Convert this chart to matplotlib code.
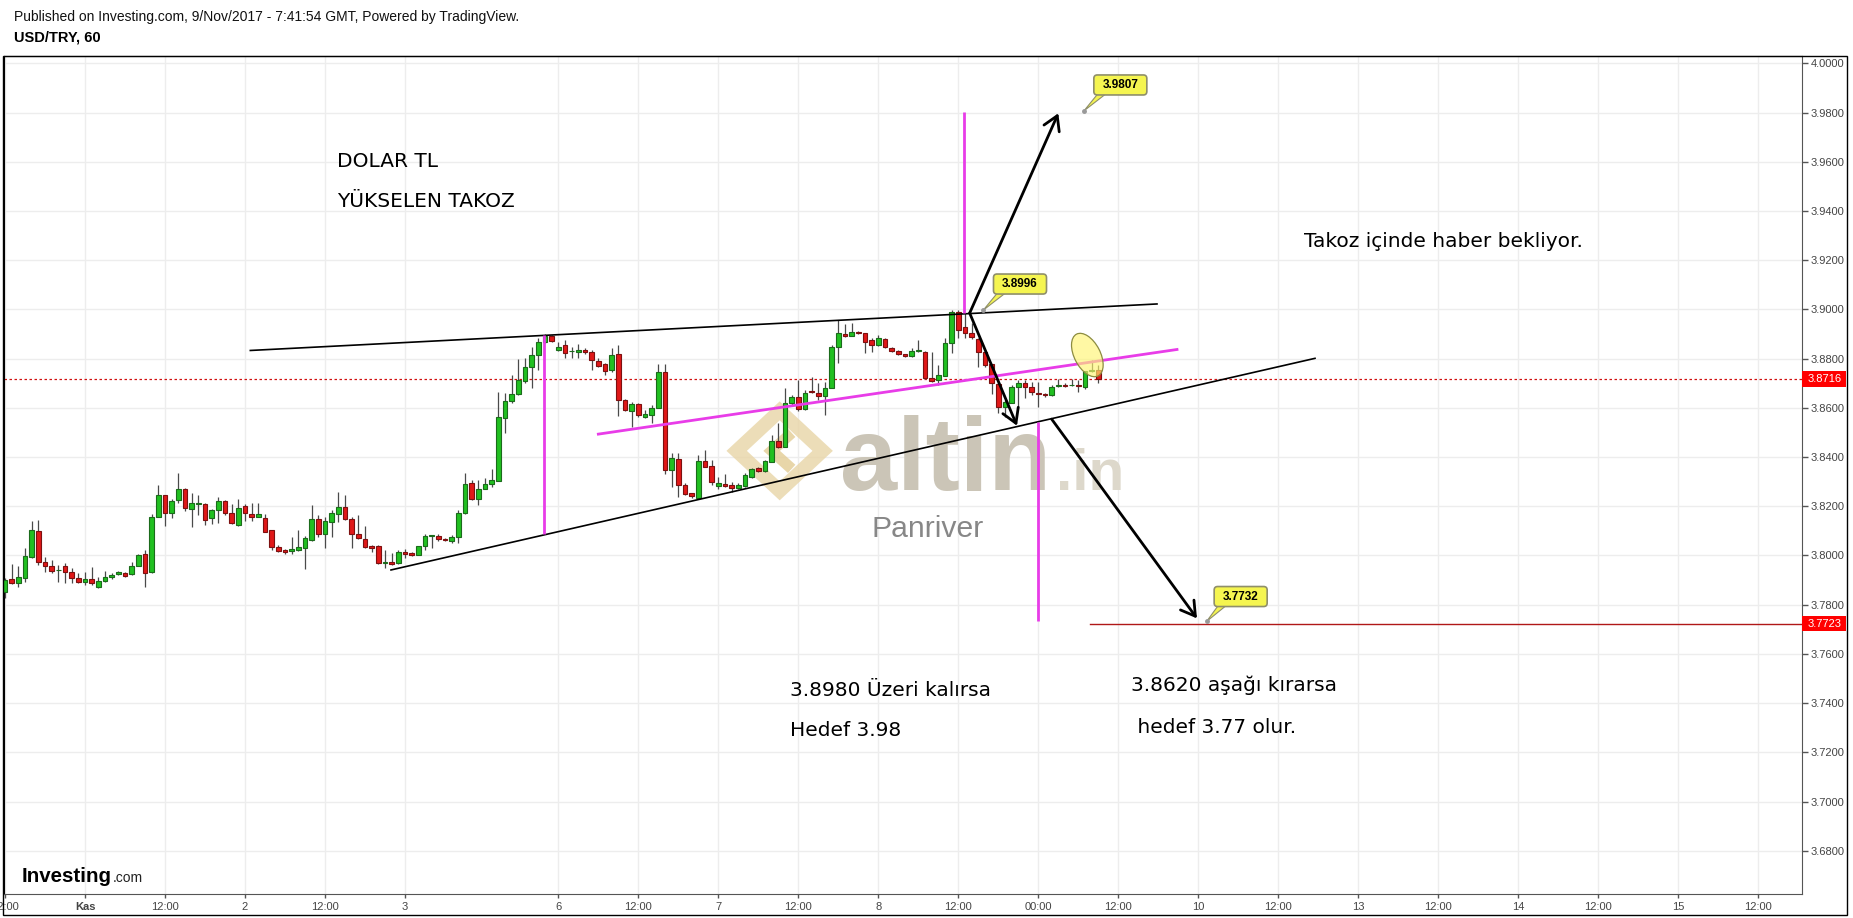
import numpy as np
import matplotlib.pyplot as plt
from matplotlib.patches import Ellipse, FancyBboxPatch, Polygon, Rectangle
from matplotlib.transforms import ScaledTranslation, blended_transform_factory

# USD/TRY hourly bars, x = bar number (0 = 1 Kas 00:00), weekend removed like TradingView
bar_idx = list(range(-12, 153))
opens = [3.7850, 3.7906, 3.7889, 3.7909, 3.7994, 3.8099, 3.7975, 3.7959, 3.7940, 3.7959, 3.7932, 3.7909,
         3.7893, 3.7904, 3.7870, 3.7895, 3.7913, 3.7923, 3.7928, 3.7923, 3.7959, 3.8004, 3.7931, 3.8158,
         3.8244, 3.8171, 3.8225, 3.8272, 3.8190, 3.8211, 3.8211, 3.8153, 3.8183, 3.8221, 3.8171, 3.8122,
         3.8200, 3.8168, 3.8158, 3.8154, 3.8102, 3.8035, 3.8022, 3.8017, 3.8022, 3.8032, 3.8062, 3.8150,
         3.8087, 3.8136, 3.8168, 3.8195, 3.8150, 3.8089, 3.8065, 3.8038, 3.8039, 3.7969, 3.7975, 3.7970,
         3.8013, 3.8008, 3.8003, 3.8039, 3.8080, 3.8080, 3.8066, 3.8057, 3.8073, 3.8171, 3.8296, 3.8231,
         3.8272, 3.8292, 3.8304, 3.8557, 3.8627, 3.8656, 3.8710, 3.8767, 3.8814, 3.8866, 3.8892, 3.8835,
         3.8855, 3.8829, 3.8826, 3.8835, 3.8828, 3.8790, 3.8777, 3.8753, 3.8817, 3.8631, 3.8588, 3.8614,
         3.8564, 3.8570, 3.8601, 3.8744, 3.8347, 3.8390, 3.8286, 3.8252, 3.8235, 3.8385, 3.8364, 3.8283,
         3.8290, 3.8286, 3.8276, 3.8283, 3.8317, 3.8354, 3.8344, 3.8381, 3.8465, 3.8442, 3.8618, 3.8642,
         3.8594, 3.8668, 3.8661, 3.8648, 3.8682, 3.8848, 3.8900, 3.8893, 3.8909, 3.8902, 3.8875, 3.8855,
         3.8879, 3.8845, 3.8831, 3.8817, 3.8812, 3.8831, 3.8828, 3.8720, 3.8713, 3.8729, 3.8862, 3.8990,
         3.8927, 3.8905, 3.8878, 3.8828, 3.8776, 3.8696, 3.8604, 3.8621, 3.8683, 3.8702, 3.8683, 3.8662,
         3.8656, 3.8652, 3.8689, 3.8694, 3.8691, 3.8691, 3.8686, 3.8749, 3.8753]
highs = [3.7908, 3.7967, 3.7957, 3.8031, 3.8139, 3.8143, 3.7992, 3.7981, 3.7961, 3.7970, 3.7950, 3.7927,
         3.7932, 3.7951, 3.7913, 3.7936, 3.7929, 3.7935, 3.7933, 3.7974, 3.8005, 3.8024, 3.8167, 3.8286,
         3.8246, 3.8231, 3.8333, 3.8274, 3.8252, 3.8245, 3.8213, 3.8187, 3.8238, 3.8225, 3.8211, 3.8231,
         3.8211, 3.8215, 3.8214, 3.8170, 3.8104, 3.8042, 3.8026, 3.8073, 3.8103, 3.8078, 3.8204, 3.8164,
         3.8157, 3.8184, 3.8259, 3.8245, 3.8157, 3.8164, 3.8119, 3.8042, 3.8042, 3.8022, 3.8008, 3.8024,
         3.8028, 3.8015, 3.8039, 3.8089, 3.8083, 3.8087, 3.8069, 3.8083, 3.8184, 3.8333, 3.8306, 3.8306,
         3.8313, 3.8350, 3.8665, 3.8661, 3.8733, 3.8797, 3.8801, 3.8848, 3.8882, 3.8900, 3.8896, 3.8866,
         3.8875, 3.8848, 3.8859, 3.8845, 3.8835, 3.8801, 3.8783, 3.8841, 3.8855, 3.8634, 3.8625, 3.8618,
         3.8591, 3.8611, 3.8780, 3.8780, 3.8415, 3.8415, 3.8293, 3.8255, 3.8408, 3.8428, 3.8387, 3.8320,
         3.8329, 3.8299, 3.8293, 3.8333, 3.8354, 3.8358, 3.8388, 3.8489, 3.8537, 3.8679, 3.8652, 3.8713,
         3.8672, 3.8726, 3.8699, 3.8706, 3.8855, 3.8957, 3.8940, 3.8943, 3.8913, 3.8903, 3.8882, 3.8896,
         3.8882, 3.8848, 3.8834, 3.8820, 3.8841, 3.8875, 3.8829, 3.8828, 3.8774, 3.8882, 3.8996, 3.8996,
         3.8984, 3.8943, 3.8882, 3.8835, 3.8780, 3.8706, 3.8631, 3.8692, 3.8713, 3.8713, 3.8706, 3.8706,
         3.8661, 3.8692, 3.8719, 3.8699, 3.8719, 3.8713, 3.8749, 3.8794, 3.8774]
lows = [3.7827, 3.7885, 3.7870, 3.7893, 3.7990, 3.7960, 3.7933, 3.7930, 3.7893, 3.7889, 3.7889, 3.7886,
        3.7879, 3.7880, 3.7866, 3.7893, 3.7906, 3.7920, 3.7913, 3.7921, 3.7957, 3.7873, 3.7929, 3.8156,
        3.8119, 3.8153, 3.8214, 3.8180, 3.8116, 3.8164, 3.8123, 3.8127, 3.8133, 3.8165, 3.8128, 3.8120,
        3.8141, 3.8141, 3.8157, 3.8095, 3.8022, 3.8015, 3.8005, 3.8004, 3.8020, 3.7943, 3.8060, 3.8073,
        3.8031, 3.8076, 3.8137, 3.8146, 3.8032, 3.8065, 3.8032, 3.8015, 3.7967, 3.7947, 3.7962, 3.7967,
        3.7988, 3.7996, 3.8000, 3.8022, 3.8032, 3.8060, 3.8058, 3.8052, 3.8052, 3.8169, 3.8225, 3.8204,
        3.8268, 3.8279, 3.8302, 3.8499, 3.8620, 3.8652, 3.8700, 3.8682, 3.8753, 3.8862, 3.8866, 3.8830,
        3.8801, 3.8801, 3.8801, 3.8820, 3.8753, 3.8765, 3.8733, 3.8746, 3.8568, 3.8587, 3.8520, 3.8564,
        3.8560, 3.8537, 3.8600, 3.8331, 3.8279, 3.8239, 3.8245, 3.8232, 3.8232, 3.8358, 3.8286, 3.8272,
        3.8280, 3.8259, 3.8272, 3.8280, 3.8314, 3.8340, 3.8340, 3.8380, 3.8438, 3.8440, 3.8611, 3.8588,
        3.8590, 3.8660, 3.8630, 3.8570, 3.8680, 3.8783, 3.8888, 3.8890, 3.8899, 3.8824, 3.8828, 3.8850,
        3.8844, 3.8828, 3.8815, 3.8806, 3.8808, 3.8826, 3.8716, 3.8706, 3.8693, 3.8728, 3.8822, 3.8882,
        3.8882, 3.8880, 3.8764, 3.8765, 3.8658, 3.8577, 3.8563, 3.8620, 3.8601, 3.8638, 3.8652, 3.8604,
        3.8645, 3.8648, 3.8686, 3.8686, 3.8688, 3.8665, 3.8675, 3.8746, 3.8699]
closes = [3.7900, 3.7889, 3.7912, 3.7996, 3.8103, 3.7974, 3.7958, 3.7938, 3.7942, 3.7933, 3.7909, 3.7893,
          3.7904, 3.7886, 3.7895, 3.7912, 3.7920, 3.7931, 3.7917, 3.7959, 3.8000, 3.7929, 3.8158, 3.8244,
          3.8171, 3.8221, 3.8268, 3.8191, 3.8214, 3.8212, 3.8146, 3.8183, 3.8221, 3.8171, 3.8130, 3.8191,
          3.8171, 3.8158, 3.8168, 3.8097, 3.8035, 3.8020, 3.8016, 3.8026, 3.8035, 3.8069, 3.8150, 3.8087,
          3.8139, 3.8171, 3.8195, 3.8150, 3.8089, 3.8069, 3.8035, 3.8032, 3.7970, 3.7972, 3.7967, 3.8016,
          3.8004, 3.8000, 3.8039, 3.8081, 3.8081, 3.8065, 3.8061, 3.8073, 3.8171, 3.8290, 3.8231, 3.8272,
          3.8292, 3.8306, 3.8561, 3.8627, 3.8656, 3.8713, 3.8764, 3.8814, 3.8866, 3.8893, 3.8871, 3.8848,
          3.8821, 3.8830, 3.8835, 3.8826, 3.8794, 3.8771, 3.8751, 3.8814, 3.8631, 3.8593, 3.8614, 3.8570,
          3.8574, 3.8601, 3.8744, 3.8347, 3.8394, 3.8286, 3.8249, 3.8242, 3.8385, 3.8361, 3.8299, 3.8296,
          3.8283, 3.8276, 3.8286, 3.8326, 3.8351, 3.8344, 3.8385, 3.8466, 3.8442, 3.8618, 3.8642, 3.8594,
          3.8662, 3.8665, 3.8648, 3.8679, 3.8848, 3.8902, 3.8892, 3.8909, 3.8902, 3.8868, 3.8855, 3.8882,
          3.8848, 3.8832, 3.8819, 3.8810, 3.8832, 3.8833, 3.8720, 3.8710, 3.8733, 3.8862, 3.8990, 3.8916,
          3.8902, 3.8886, 3.8828, 3.8774, 3.8699, 3.8604, 3.8624, 3.8683, 3.8702, 3.8683, 3.8665, 3.8658,
          3.8650, 3.8686, 3.8692, 3.8689, 3.8692, 3.8688, 3.8749, 3.8753, 3.8716]

tick_pos = [-12, 0, 12, 24, 36, 48, 71, 83, 95, 107, 119, 131, 143, 155, 167, 179, 191, 203, 215, 227, 239, 251]
tick_lab = ['12:00', 'Kas', '12:00', '2', '12:00', '3', '6', '12:00', '7', '12:00', '8', '12:00', '00:00',
            '12:00', '10', '12:00', '13', '12:00', '14', '12:00', '15', '12:00']
price_ticks = [3.68, 3.70, 3.72, 3.74, 3.76, 3.78, 3.80, 3.82, 3.84, 3.86, 3.88, 3.90, 3.92, 3.94, 3.96, 3.98, 4.00]

last_price = 3.8716
target_line = 3.7723

# drawings on the chart (bar number, price)
upper_line = [(24.8, 3.8833), (160.8, 3.9022)]
lower_line = [(45.9, 3.7941), (184.5, 3.8801)]
pink_line = [(77.0, 3.8493), (163.8, 3.8837)]
pink_vert = [(68.9, 3.8087, 3.8896), (131.85, 3.8985, 3.9801), (142.9, 3.7735, 3.8543)]
arrows = [((132.7, 3.8985), (146.0, 3.9797)),
          ((132.7, 3.8985), (139.8, 3.8527)),
          ((145.0, 3.8554), (166.8, 3.7744))]
callouts = [('3.9807', (155.3, 3.9912), (149.85, 3.9807)),
            ('3.8996', (140.25, 3.9103), (134.75, 3.8997)),
            ('3.7732', (173.35, 3.7833), (168.25, 3.7732))]
notes = [('DOLAR TL', 37.8, 3.9599), ('YÜKSELEN TAKOZ', 37.8, 3.9437),
         ('Takoz içinde haber bekliyor.', 182.8, 3.9274),
         ('3.8980 Üzeri kalırsa', 105.7, 3.7453), ('Hedef 3.98', 105.7, 3.7290),
         ('3.8620 aşağı kırarsa', 156.9, 3.7471), (' hedef 3.77 olur.', 156.9, 3.7300)]

W, H = 1853, 918
fig = plt.figure(figsize=(W / 100, H / 100), dpi=100)
ax = fig.add_axes([4 / W, 24 / H, 1798 / W, 838 / H])
ax.set_xlim(-12.15, 257.55)
ax.set_ylim(3.66241, 4.00297)

ax.set_xticks(tick_pos)
ax.set_xticklabels(tick_lab)
ax.set_yticks(price_ticks)
ax.set_yticklabels(['%.4f' % p for p in price_ticks])
ax.yaxis.tick_right()
ax.tick_params(axis='both', colors='#555555', labelcolor='#444444', labelsize=8, width=1)
ax.tick_params(axis='y', length=4, pad=2)
ax.tick_params(axis='x', length=3, pad=3)
for lab in ax.get_xticklabels() + ax.get_yticklabels():
    lab.set_family('Liberation Sans')
ax.get_xticklabels()[1].set_weight('bold')
ax.grid(True, color='#ededed', lw=1)
ax.set_axisbelow(True)
for s in ['left', 'top']:
    ax.spines[s].set_color('black')
for s in ['right', 'bottom']:
    ax.spines[s].set_color('#555555')

# frame around everything
fig.add_artist(Rectangle((3 / W, 3 / H), 1844 / W, 859 / H, fill=False, ec='black', lw=1,
                         transform=fig.transFigure))
fig.text(14 / W, 1 - 17 / H, 'Published on Investing.com, 9/Nov/2017 - 7:41:54 GMT, Powered by TradingView.',
         fontsize=10, family='Liberation Sans', va='center', color='#111111')
fig.text(14 / W, 1 - 38 / H, 'USD/TRY, 60', fontsize=10.5, family='Liberation Sans', weight='bold', va='center')
t1 = fig.text(22 / W, 1 - 882 / H, 'Investing', fontsize=14.8, family='Liberation Sans', weight='bold',
              va='baseline')
fig.text(113 / W, 1 - 882 / H, '.com', fontsize=10, family='Liberation Sans', color='#222222', va='baseline')

# watermark
ax.text(113.2, 3.8266, 'altin', fontsize=74, weight='bold', family='Liberation Sans', color='#cbc5b7',
        va='baseline', zorder=1)
ax.text(145.6, 3.8266, '.in', fontsize=42, weight='bold', family='Liberation Sans', color='#ddd8cb',
        va='baseline', zorder=1)
ax.text(118.0, 3.8076, 'Panriver', fontsize=21.7, family='Liberation Sans', color='#878787',
        va='baseline', zorder=1)
logo_tr = fig.dpi_scale_trans + ScaledTranslation(104.2, 3.8425, ax.transData)
ax.add_patch(Polygon([(0.0, 0.40), (0.43, 0.0), (0.0, -0.40), (-0.43, 0.0)], closed=True, fill=False,
                     ec='#e8d5a6', lw=10, alpha=0.8, transform=logo_tr, zorder=1))
ax.add_patch(Polygon([(0.12, 0.18), (-0.08, 0.0), (0.12, -0.18)], closed=False, fill=False,
                     ec='#e3cc94', lw=8, alpha=0.8, transform=logo_tr, zorder=1))

# candles
x = np.array(bar_idx)
o = np.array(opens)
h = np.array(highs)
l = np.array(lows)
c = np.array(closes)
up = c >= o
ax.vlines(x, l, h, color='#4a4a4a', lw=0.9, zorder=3)
ax.bar(x, np.maximum(np.abs(c - o), 0.00012), bottom=np.minimum(o, c), width=0.72,
       color=np.where(up, '#21c021', '#e01818'), edgecolor=np.where(up, '#1b6b1b', '#7d1010'),
       linewidth=0.8, zorder=4)

# price lines
ax.axhline(last_price, color='#d01010', lw=0.9, ls=(0, (2, 2)), zorder=2)
ax.plot([150.7, 257.55], [target_line, target_line], color='#b01818', lw=1, zorder=2)
bt = blended_transform_factory(ax.transAxes, ax.transData)
for p in [last_price, target_line]:
    ax.add_patch(Rectangle((1.0, p - 0.0032), 44 / 1798, 0.0064, transform=bt, fc='#ff0000', ec='none',
                           clip_on=False, zorder=10))
    ax.text(1.0 + 6 / 1798, p, '%.4f' % p, transform=bt, color='white', fontsize=8, family='Liberation Sans',
            va='center', ha='left', clip_on=False, zorder=11)

# trend lines
for ln in [upper_line, lower_line]:
    ax.plot([ln[0][0], ln[1][0]], [ln[0][1], ln[1][1]], color='black', lw=1.2, zorder=5)
ax.plot([pink_line[0][0], pink_line[1][0]], [pink_line[0][1], pink_line[1][1]], color='#e83ce8', lw=2, zorder=5)
for xv, y0, y1 in pink_vert:
    ax.vlines(xv, y0, y1, color='#e83ce8', lw=2, zorder=5)
for st, en in arrows:
    ax.annotate('', xy=en, xytext=st,
                arrowprops=dict(arrowstyle='->,head_length=0.5,head_width=0.3', color='black', lw=2,
                                shrinkA=0, shrinkB=0, mutation_scale=20), zorder=6)

# ellipse
ell_tr = fig.dpi_scale_trans + ScaledTranslation(150.35, 3.88145, ax.transData)
ax.add_patch(Ellipse((0, 0), 0.47, 0.26, angle=-62.6, fc=(1, 0.96, 0.45, 0.65), ec='#8c8c40', lw=0.9,
                     transform=ell_tr, zorder=7))

# yellow price callouts
for lab, (bx, by), (tx, ty) in callouts:
    p0 = ax.transData.transform((bx, by))
    p1 = ax.transData.transform((tx, ty))
    dx, dy = (p1 - p0) / 100.0
    tr = fig.dpi_scale_trans + ScaledTranslation(bx, by, ax.transData)
    ax.add_patch(Polygon([(-0.21, -0.07), (-0.12, -0.07), (dx, dy)], closed=True, fc='#f5f550', ec='#8f8f6a',
                         lw=0.8, transform=tr, zorder=8))
    ax.add_patch(FancyBboxPatch((-0.265, -0.10), 0.53, 0.20, boxstyle='round,pad=0,rounding_size=0.035',
                                fc='#f5f550', ec='#8f8f6a', lw=1.2, transform=tr, zorder=9))
    ax.text(bx, by, lab, ha='center', va='center', fontsize=8.5, weight='bold', family='Liberation Sans',
            zorder=10)
    ax.plot(tx, ty, 'o', ms=2.5, color='#999999', zorder=8)

for txt, xv, yv in notes:
    ax.text(xv, yv, txt, fontsize=14.5, family='DejaVu Sans', va='center', ha='left', zorder=6)

fig.savefig('out.png', dpi=100, facecolor='white')
